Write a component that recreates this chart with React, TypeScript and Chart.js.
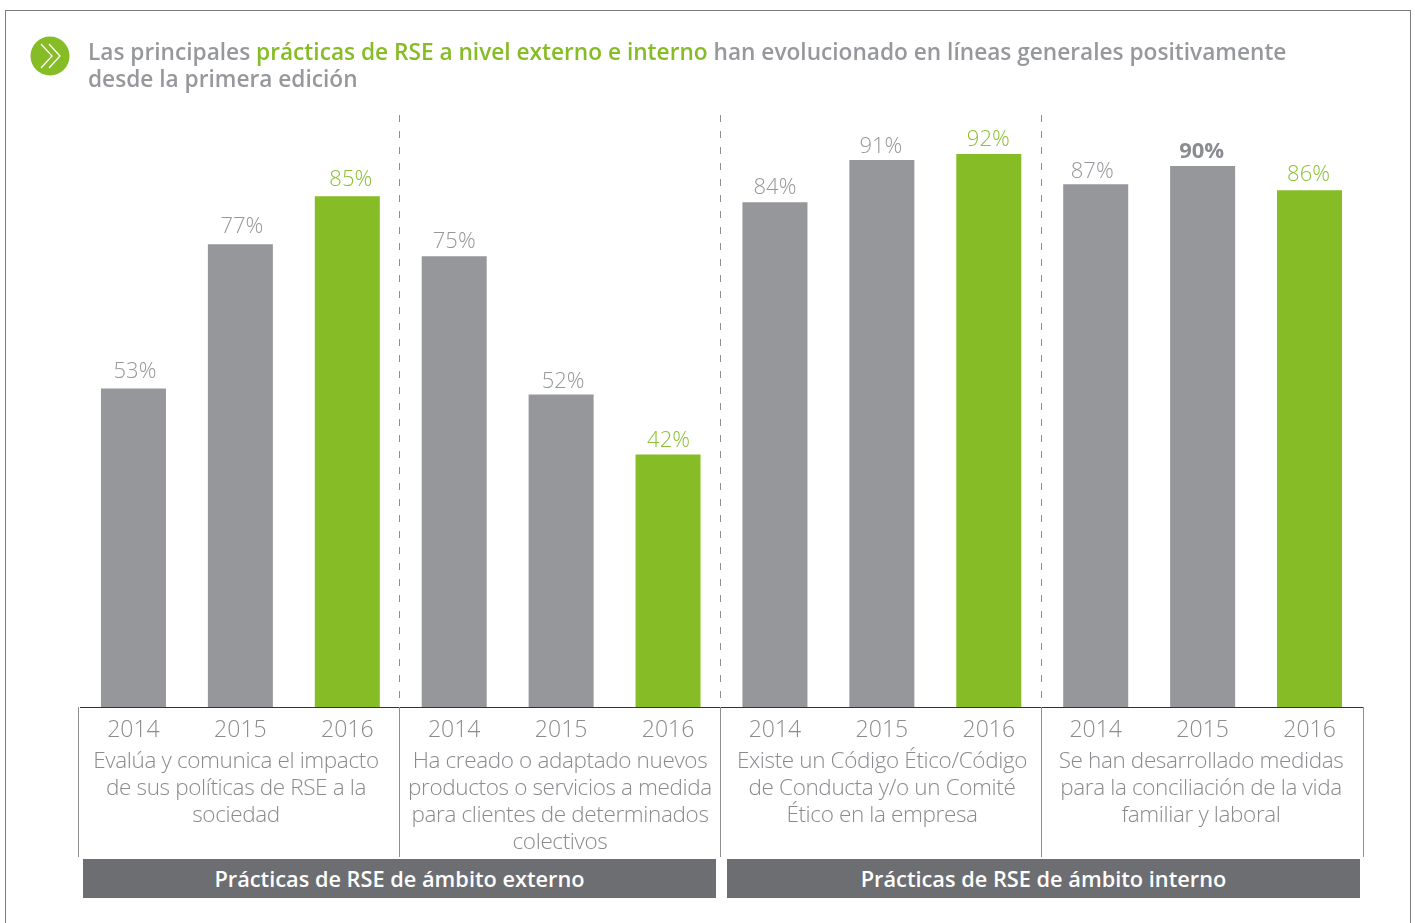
import React, { useEffect, useRef } from "react";
import { Chart, registerables } from "chart.js";

Chart.register(...registerables);

const years = ["2014", "2015", "2016", "2014", "2015", "2016", "2014", "2015", "2016", "2014", "2015", "2016"];
const values = [53, 77, 85, 75, 52, 42, 84, 91, 92, 87, 90, 86];
const boldIndex = [10];
const groupTexts = [
  ["Evalúa y comunica el impacto", "de sus políticas de RSE a la", "sociedad"],
  ["Ha creado o adaptado nuevos", "productos o servicios a medida", "para clientes de determinados", "colectivos"],
  ["Existe un Código Ético/Código", "de Conducta y/o un Comité", "Ético en la empresa"],
  ["Se han desarrollado medidas", "para la conciliación de la vida", "familiar y laboral"],
];
const bandTexts = ["Prácticas de RSE de ámbito externo", "Prácticas de RSE de ámbito interno"];

const GRAY = "#96979b";
const GREEN = "#86bc25";
const FONT = '"Open Sans", sans-serif';

// small hand placement of the value labels, as in the reference
const labelDx = [1.5, 1.5, 3.5, 0, 2, 0.5, 0, -1, -0.5, -3.5, -1, -1];
const labelDy = [-10, -11, -10, -8, -6, -8, -8, -7, -8, -6, -8, -9];

const isGreen = (i: number) => i % 3 === 2;

const overlay = {
  id: "overlay",
  afterDatasetsDraw(chart: any) {
    const { ctx, scales } = chart;
    const x = scales.x;
    const y = scales.y;
    const step = x.getPixelForValue(1) - x.getPixelForValue(0);
    const bottom = y.getPixelForValue(0);
    ctx.save();
    ctx.textAlign = "center";
    ctx.textBaseline = "alphabetic";
    values.forEach((v, i) => {
      const bold = boldIndex.includes(i);
      ctx.font = `${bold ? 700 : 300} 22px ${FONT}`;
      ctx.fillStyle = isGreen(i) ? "#8cc033" : bold ? "#8b8c90" : "#96979b";
      ctx.fillText(`${v}%`, x.getPixelForValue(i) + labelDx[i], y.getPixelForValue(v) + labelDy[i]);
    });
    [0, 3, 6, 9, 12].forEach((g) => {
      const outer = g === 0 ? -1 : g === 12 ? 1 : 0;
      const px = Math.floor(x.getPixelForValue(g) - step / 2 - 0.8) + 0.5 + outer;
      ctx.strokeStyle = "#8f8f8f";
      ctx.lineWidth = 1;
      if (g > 0 && g < 12) {
        ctx.setLineDash([7, 9]);
        ctx.beginPath();
        ctx.moveTo(px, 115);
        ctx.lineTo(px, bottom);
        ctx.stroke();
      }
      ctx.setLineDash([]);
      ctx.beginPath();
      ctx.moveTo(px, bottom);
      ctx.lineTo(px, 857);
      ctx.stroke();
    });
    ctx.restore();
  },
};

function Chevrons() {
  return (
    <svg width="40" height="40" viewBox="0 0 40 40" style={{ position: "absolute", left: 30, top: 36 }}>
      <circle cx="20" cy="20" r="19.5" fill={GREEN} />
      <path d="M11 8 L22 20 L11 32 M19 8 L30 20 L19 32" fill="none" stroke="#fff" strokeWidth="1.3" />
    </svg>
  );
}

export default function App() {
  const ref = useRef<HTMLCanvasElement>(null);
  useEffect(() => {
    document.body.style.margin = "0";
    const chart = new Chart(ref.current!, {
      type: "bar",
      data: {
        labels: years.map((y, i) => `${y}#${i}`),
        datasets: [
          {
            data: values,
            backgroundColor: values.map((_, i) => (isGreen(i) ? GREEN : GRAY)),
            barPercentage: 65 / 106.91,
            categoryPercentage: 1,
          },
        ],
      },
      options: {
        responsive: false,
        animation: false,
        layout: { padding: { left: 80, right: 52, top: 106, bottom: 0 } },
        plugins: { legend: { display: false }, tooltip: { enabled: false } },
        scales: {
          x: {
            afterFit(scale: any) {
              scale.height = 216;
            },
            grid: { display: false },
            border: { display: true, color: "#333333", width: 1 },
            ticks: {
              color: "#8a8b8e",
              font: { family: FONT, size: 23, weight: "300" },
              padding: 2,
              maxRotation: 0,
              autoSkip: false,
              callback: (_: any, i: number) => years[i],
            },
          },
          y: { display: false, min: 0, max: 100 },
        },
      } as any,
      plugins: [overlay],
    });
    return () => chart.destroy();
  }, []);

  const centers = [236, 560, 882, 1201];
  const bands = [
    { left: 83, width: 633 },
    { left: 727, width: 633 },
  ];

  return (
    <div style={{ position: "relative", width: 1415, height: 923, overflow: "hidden", background: "#fff", fontFamily: FONT }}>
      <div style={{ position: "absolute", left: 5, top: 10, width: 1404, height: 940, border: "1px solid #7d7d7d" }} />
      <canvas ref={ref} width={1415} height={923} style={{ position: "absolute", left: 0, top: 0, display: "block" }} />
      <Chevrons />
      <div style={{ position: "absolute", left: 88, top: 38, width: 1290, fontSize: 22.67, lineHeight: "27px", fontWeight: 600, color: "#97989c" }}>
        Las principales <span style={{ color: GREEN }}>prácticas de RSE a nivel externo e interno</span> han evolucionado en líneas generales positivamente
        <br />
        desde la primera edición
      </div>
      {groupTexts.map((lines, g) => (
        <div key={g} style={{ position: "absolute", left: centers[g] - 160, width: 320, top: 746, textAlign: "center", fontSize: 22.5, lineHeight: "27px", fontWeight: 300, color: "#8a8b8e", letterSpacing: "-0.37px" }}>
          {lines.map((l, i) => (
            <div key={i}>{l}</div>
          ))}
        </div>
      ))}
      {bands.map((b, i) => (
        <div key={i} style={{ position: "absolute", left: b.left, top: 859, width: b.width, height: 39, lineHeight: "39px", background: "#6c6e71", color: "#fff", textAlign: "center", fontSize: 21.76, fontWeight: 600 }}>
          {bandTexts[i]}
        </div>
      ))}
    </div>
  );
}
